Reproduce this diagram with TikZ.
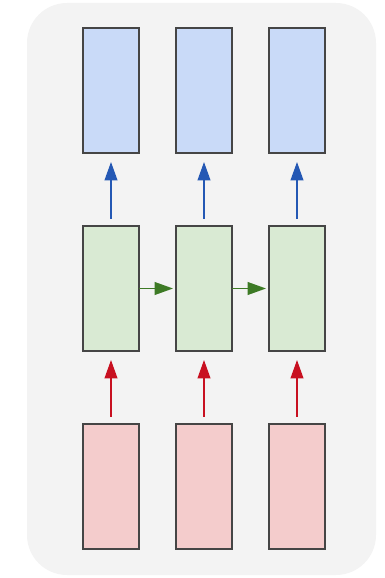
\documentclass[tikz,border=0pt]{standalone}
\usepackage{tikz}
\usetikzlibrary{positioning,arrows.meta}
\definecolor{panelgray}{HTML}{F3F3F3}
\definecolor{outblue}{HTML}{C9DAF8}
\definecolor{hidgreen}{HTML}{D9EAD3}
\definecolor{inred}{HTML}{F4CCCC}
\definecolor{edgegray}{HTML}{454545}
\definecolor{arrblue}{HTML}{2458B4}
\definecolor{arrgreen}{HTML}{3D7A25}
\definecolor{arrred}{HTML}{C81020}

\begin{document}
\begin{tikzpicture}[
  node distance=18.25mm and 9.25mm,
  cell/.style   ={draw=edgegray, line width=1.2pt, minimum width=14mm,
                  minimum height=31.25mm, inner sep=0pt, outer sep=0pt},
  outcell/.style={cell, fill=outblue},
  hidcell/.style={cell, fill=hidgreen},
  incell/.style ={cell, fill=inred},
  arr/.style    ={-{Triangle[length=4.6mm, width=3.2mm]}, line width=1.1pt},
  uparr/.style  ={arr, shorten <=1.75mm, shorten >=2.25mm}
]
\useasboundingbox (0,0) rectangle (9.6,14.45);

% --- grey panel behind everything ---
\fill[panelgray, rounded corners=10mm] (0.675,0.075) rectangle (9.4,14.375);

% --- output row ---
\node[outcell] at (2.775,12.1875) (o1) {};
\node[outcell, right=of o1]       (o2) {};
\node[outcell, right=of o2]       (o3) {};

% --- hidden row ---
\node[hidcell, below=of o1] (h1) {};
\node[hidcell, below=of o2] (h2) {};
\node[hidcell, below=of o3] (h3) {};

% --- input row ---
\node[incell, below=of h1] (x1) {};
\node[incell, below=of h2] (x2) {};
\node[incell, below=of h3] (x3) {};

% --- connections ---
\foreach \i in {1,2,3} {
  \draw[uparr, arrred]  (x\i) -- (h\i);
  \draw[uparr, arrblue] (h\i) -- (o\i);
}
\draw[arr, arrgreen, shorten >=0.75mm] (h1) -- (h2);
\draw[arr, arrgreen, shorten >=0.75mm] (h2) -- (h3);

\end{tikzpicture}
\end{document}
